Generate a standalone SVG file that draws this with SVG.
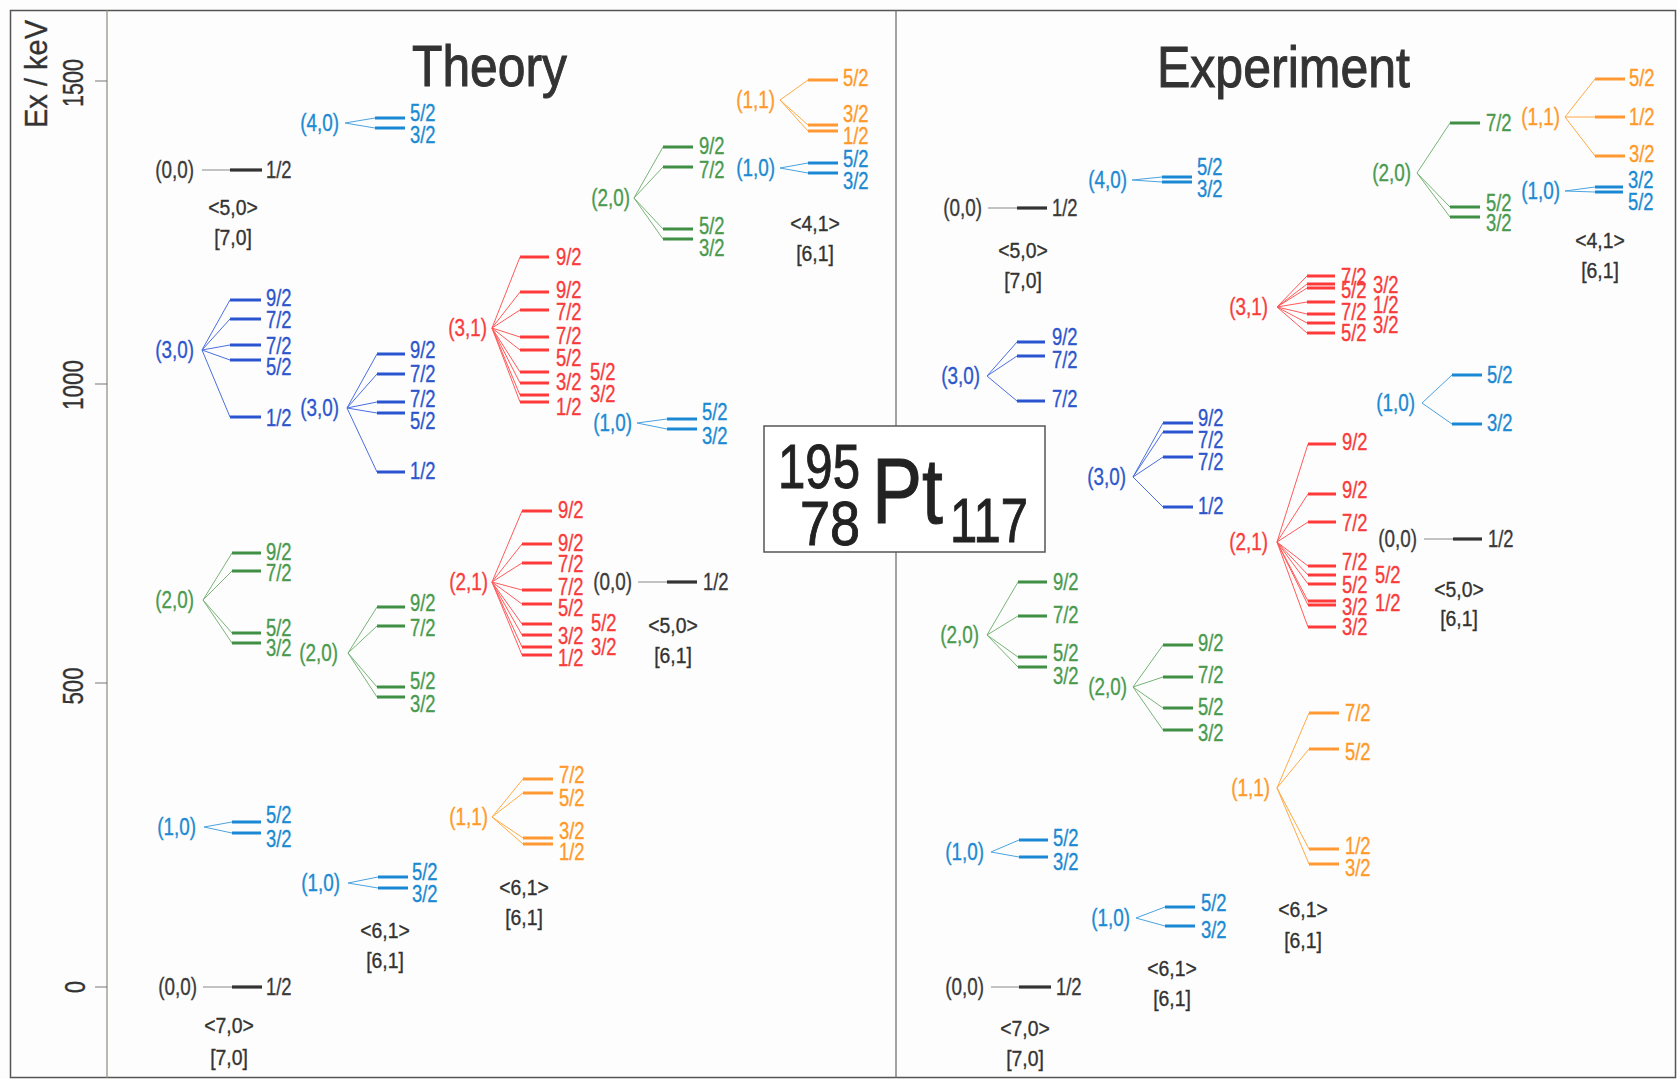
<svg xmlns="http://www.w3.org/2000/svg" width="1677" height="1079" viewBox="0 0 1677 1079">
<style>
text{font-family:"Liberation Sans",Arial,sans-serif;stroke-width:.35}
.sp{font-size:23px;transform-box:fill-box;transform-origin:0 50%;transform:scaleX(.8)}
.bl{font-size:23px;text-anchor:end;transform-box:fill-box;transform-origin:100% 50%;transform:scaleX(.82)}
.qn{font-size:22px;text-anchor:middle;fill:#333;stroke:#333;transform-box:fill-box;transform-origin:50% 50%;transform:scaleX(.88)}
.lv{fill:none;stroke-width:3.2}
.fn{fill:none;stroke-width:1}
.k{fill:#3a3a3a;stroke:#3a3a3a}.b3{fill:#2d56cc;stroke:#2d56cc}.b1{fill:#1c8ad2;stroke:#1c8ad2}.g{fill:#4a9a4e;stroke:#4a9a4e}.r{fill:#f83c3c;stroke:#f83c3c}.o{fill:#ff9a2a;stroke:#ff9a2a}
.sk{stroke:#333}.sb3{stroke:#2b55d0}.sb1{stroke:#1a88d4}.sg{stroke:#3f8f45}.sr{stroke:#ff3a3a}.so{stroke:#ff9933}
.fk{stroke:#888}.fb3{stroke:#4a6fe0}.fb1{stroke:#4aa3e0}.fg{stroke:#78b478}.fr{stroke:#ff5a5a}.fo{stroke:#ffaa44}
.ax{fill:#333;stroke:#333;text-anchor:middle}
.ti{fill:#333;stroke:#333;stroke-width:1}
.pt{fill:#222;stroke:#222;stroke-width:1}
</style>
<rect x="0" y="0" width="1677" height="1079" fill="#fdfdfd"/>
<g id="frame">
<rect x="10.5" y="10.5" width="1665" height="1067" fill="none" stroke="#555" stroke-width="1.5"/>
<line x1="107" y1="10" x2="107" y2="1078" stroke="#8a8a7a" stroke-width="1.2"/>
<line x1="896" y1="10" x2="896" y2="1078" stroke="#666" stroke-width="1.2"/>
<path d="M95 81H107M95 384H107M95 683H107M95 987H107" stroke="#777" stroke-width="1.2"/>
<text class="ax" transform="translate(47,74) rotate(-90)" font-size="32" textLength="108" lengthAdjust="spacingAndGlyphs">Ex / keV</text>
<text class="ax" transform="translate(83,83) rotate(-90)" font-size="30" textLength="48" lengthAdjust="spacingAndGlyphs">1500</text>
<text class="ax" transform="translate(83,385) rotate(-90)" font-size="30" textLength="50" lengthAdjust="spacingAndGlyphs">1000</text>
<text class="ax" transform="translate(83,686) rotate(-90)" font-size="30" textLength="37" lengthAdjust="spacingAndGlyphs">500</text>
<text class="ax" transform="translate(85,987) rotate(-90)" font-size="30" textLength="12" lengthAdjust="spacingAndGlyphs">0</text>
<text class="ti" x="412" y="86" font-size="58" textLength="155" lengthAdjust="spacingAndGlyphs">Theory</text>
<text class="ti" x="1157" y="87" font-size="57" textLength="253" lengthAdjust="spacingAndGlyphs">Experiment</text>
</g>
<g id="pt-box">
<rect x="764" y="426" width="281" height="126" fill="#fff" stroke="#555" stroke-width="1.5"/>
<text class="pt" x="778" y="488" font-size="63" textLength="82" lengthAdjust="spacingAndGlyphs">195</text>
<text class="pt" x="800" y="545" font-size="63" textLength="60" lengthAdjust="spacingAndGlyphs">78</text>
<text class="pt" x="872" y="523" font-size="92" textLength="71" lengthAdjust="spacingAndGlyphs">Pt</text>
<text class="pt" x="950" y="542" font-size="63" textLength="78" lengthAdjust="spacingAndGlyphs">117</text>
</g>
<g id="connectors">
<path class="fn fk" d="M202 170H230M203 987H232M638 582H667M988 208H1017M991 987H1019M1424 539H1453"/>
<path class="fn fb3" d="M202 350L230 300M202 350L230 319M202 350L230 345M202 350L230 360M202 350L230 417M347 408L377 354M347 408L377 374M347 408L377 402M347 408L377 413M347 408L377 472M987 376L1017 342M987 376L1017 356M987 376L1017 401M1133 477L1163 423M1133 477L1163 432M1133 477L1163 457M1133 477L1163 507"/>
<path class="fn fb1" d="M204 827L232 822M204 827L232 833M345 123L375 118M345 123L375 128M348 883L378 877M348 883L378 888M637 423L667 419M637 423L667 429M780 168L808 163M780 168L808 173M991 852L1019 840M991 852L1019 857M1132 180L1162 177M1132 180L1162 182M1136 918L1165 907M1136 918L1165 926M1422 403L1452 375M1422 403L1452 424M1565 191L1595 187M1565 191L1595 192"/>
<path class="fn fg" d="M203 600L232 553M203 600L232 571M203 600L232 633M203 600L232 643M348 653L377 607M348 653L377 626M348 653L377 687M348 653L377 697M634 198L663 147M634 198L663 167M634 198L663 229M634 198L663 239M987 635L1018 582M987 635L1018 616M987 635L1018 657M987 635L1018 667M1133 687L1163 645M1133 687L1163 677M1133 687L1163 708M1133 687L1163 730M1417 173L1450 123M1417 173L1450 207M1417 173L1450 217"/>
<path class="fn fr" d="M492 328L520 257M492 328L520 292M492 328L520 310M492 328L520 337M492 328L520 350M492 328L520 372M492 328L520 383M492 328L520 395M492 328L520 402M492 582L522 511M492 582L522 544M492 582L522 563M492 582L522 590M492 582L522 604M492 582L522 624M492 582L522 635M492 582L522 647M492 582L522 655M1277 307L1307 276M1277 307L1307 284M1277 307L1307 288M1277 307L1307 302M1277 307L1307 314M1277 307L1307 323M1277 307L1307 333M1277 542L1308 444M1277 542L1308 494M1277 542L1308 522M1277 542L1308 566M1277 542L1308 575M1277 542L1308 584M1277 542L1308 601M1277 542L1308 605M1277 542L1308 627"/>
<path class="fn fo" d="M492 817L523 779M492 817L523 793M492 817L523 838M492 817L523 844M780 100L808 80M780 100L808 125M780 100L808 131M1277 788L1309 713M1277 788L1309 749M1277 788L1309 849M1277 788L1309 864M1565 117L1595 79M1565 117L1595 117M1565 117L1595 156"/>
</g>
<g id="t-00-a">
<text class="bl k" x="194" y="178">(0,0)</text>
<path class="lv sk" d="M230 170H262"/>
<text class="sp k" x="266" y="178">1/2</text>
<text class="qn" x="233" y="215">&lt;5,0&gt;</text>
<text class="qn" x="233" y="245">[7,0]</text>
</g>
<g id="t-30-a">
<text class="bl b3" x="194" y="358">(3,0)</text>
<path class="lv sb3" d="M230 300H261M230 319H261M230 345H261M230 360H261M230 417H261"/>
<text class="sp b3" x="266" y="306">9/2</text>
<text class="sp b3" x="266" y="328">7/2</text>
<text class="sp b3" x="266" y="354">7/2</text>
<text class="sp b3" x="266" y="375">5/2</text>
<text class="sp b3" x="266" y="426">1/2</text>
</g>
<g id="t-20-a">
<text class="bl g" x="194" y="608">(2,0)</text>
<path class="lv sg" d="M232 553H261M232 571H261M232 633H261M232 643H261"/>
<text class="sp g" x="266" y="560">9/2</text>
<text class="sp g" x="266" y="581">7/2</text>
<text class="sp g" x="266" y="636">5/2</text>
<text class="sp g" x="266" y="656">3/2</text>
</g>
<g id="t-10-a">
<text class="bl b1" x="196" y="835">(1,0)</text>
<path class="lv sb1" d="M232 822H261M232 833H261"/>
<text class="sp b1" x="266" y="823">5/2</text>
<text class="sp b1" x="266" y="847">3/2</text>
</g>
<g id="t-00-b">
<text class="bl k" x="197" y="995">(0,0)</text>
<path class="lv sk" d="M232 987H262"/>
<text class="sp k" x="266" y="995">1/2</text>
<text class="qn" x="229" y="1033">&lt;7,0&gt;</text>
<text class="qn" x="229" y="1065">[7,0]</text>
</g>
<g id="t-40">
<text class="bl b1" x="339" y="131">(4,0)</text>
<path class="lv sb1" d="M375 118H405M375 128H405"/>
<text class="sp b1" x="410" y="121">5/2</text>
<text class="sp b1" x="410" y="143">3/2</text>
</g>
<g id="t-30-b">
<text class="bl b3" x="339" y="416">(3,0)</text>
<path class="lv sb3" d="M377 354H405M377 374H405M377 402H405M377 413H405M377 472H405"/>
<text class="sp b3" x="410" y="358">9/2</text>
<text class="sp b3" x="410" y="382">7/2</text>
<text class="sp b3" x="410" y="407">7/2</text>
<text class="sp b3" x="410" y="429">5/2</text>
<text class="sp b3" x="410" y="479">1/2</text>
</g>
<g id="t-20-b">
<text class="bl g" x="338" y="661">(2,0)</text>
<path class="lv sg" d="M377 607H405M377 626H405M377 687H405M377 697H405"/>
<text class="sp g" x="410" y="611">9/2</text>
<text class="sp g" x="410" y="636">7/2</text>
<text class="sp g" x="410" y="689">5/2</text>
<text class="sp g" x="410" y="712">3/2</text>
</g>
<g id="t-10-b">
<text class="bl b1" x="340" y="891">(1,0)</text>
<path class="lv sb1" d="M378 877H408M378 888H408"/>
<text class="sp b1" x="412" y="880">5/2</text>
<text class="sp b1" x="412" y="902">3/2</text>
<text class="qn" x="385" y="938">&lt;6,1&gt;</text>
<text class="qn" x="385" y="968">[6,1]</text>
</g>
<g id="t-31">
<text class="bl r" x="487" y="336">(3,1)</text>
<path class="lv sr" d="M520 257H549M520 292H549M520 310H549M520 337H549M520 350H549M520 372H549M520 383H549M520 395H549M520 402H549"/>
<text class="sp r" x="556" y="265">9/2</text>
<text class="sp r" x="556" y="298">9/2</text>
<text class="sp r" x="556" y="320">7/2</text>
<text class="sp r" x="556" y="344">7/2</text>
<text class="sp r" x="556" y="366">5/2</text>
<text class="sp r" x="556" y="390">3/2</text>
<text class="sp r" x="556" y="415">1/2</text>
<text class="sp r" x="590" y="380">5/2</text>
<text class="sp r" x="590" y="402">3/2</text>
</g>
<g id="t-21">
<text class="bl r" x="488" y="590">(2,1)</text>
<path class="lv sr" d="M522 511H552M522 544H552M522 563H552M522 590H552M522 604H552M522 624H552M522 635H552M522 647H552M522 655H552"/>
<text class="sp r" x="558" y="518">9/2</text>
<text class="sp r" x="558" y="551">9/2</text>
<text class="sp r" x="558" y="572">7/2</text>
<text class="sp r" x="558" y="595">7/2</text>
<text class="sp r" x="558" y="616">5/2</text>
<text class="sp r" x="558" y="644">3/2</text>
<text class="sp r" x="558" y="666">1/2</text>
<text class="sp r" x="591" y="631">5/2</text>
<text class="sp r" x="591" y="655">3/2</text>
</g>
<g id="t-11-a">
<text class="bl o" x="488" y="825">(1,1)</text>
<path class="lv so" d="M523 779H553M523 793H553M523 838H553M523 844H553"/>
<text class="sp o" x="559" y="783">7/2</text>
<text class="sp o" x="559" y="806">5/2</text>
<text class="sp o" x="559" y="839">3/2</text>
<text class="sp o" x="559" y="860">1/2</text>
<text class="qn" x="524" y="895">&lt;6,1&gt;</text>
<text class="qn" x="524" y="925">[6,1]</text>
</g>
<g id="t-20-c">
<text class="bl g" x="630" y="206">(2,0)</text>
<path class="lv sg" d="M663 147H693M663 167H693M663 229H693M663 239H693"/>
<text class="sp g" x="699" y="154">9/2</text>
<text class="sp g" x="699" y="178">7/2</text>
<text class="sp g" x="699" y="234">5/2</text>
<text class="sp g" x="699" y="256">3/2</text>
</g>
<g id="t-10-c">
<text class="bl b1" x="632" y="431">(1,0)</text>
<path class="lv sb1" d="M667 419H697M667 429H697"/>
<text class="sp b1" x="702" y="420">5/2</text>
<text class="sp b1" x="702" y="444">3/2</text>
</g>
<g id="t-00-c">
<text class="bl k" x="632" y="590">(0,0)</text>
<path class="lv sk" d="M667 582H697"/>
<text class="sp k" x="703" y="590">1/2</text>
<text class="qn" x="673" y="633">&lt;5,0&gt;</text>
<text class="qn" x="673" y="663">[6,1]</text>
</g>
<g id="t-11-b">
<text class="bl o" x="775" y="108">(1,1)</text>
<path class="lv so" d="M808 80H838M808 125H838M808 131H838"/>
<text class="sp o" x="843" y="86">5/2</text>
<text class="sp o" x="843" y="122">3/2</text>
<text class="sp o" x="843" y="144">1/2</text>
</g>
<g id="t-10-d">
<text class="bl b1" x="775" y="176">(1,0)</text>
<path class="lv sb1" d="M808 163H838M808 173H838"/>
<text class="sp b1" x="843" y="167">5/2</text>
<text class="sp b1" x="843" y="189">3/2</text>
<text class="qn" x="815" y="231">&lt;4,1&gt;</text>
<text class="qn" x="815" y="261">[6,1]</text>
</g>
<g id="e-00-a">
<text class="bl k" x="982" y="216">(0,0)</text>
<path class="lv sk" d="M1017 208H1047"/>
<text class="sp k" x="1052" y="216">1/2</text>
<text class="qn" x="1023" y="258">&lt;5,0&gt;</text>
<text class="qn" x="1023" y="288">[7,0]</text>
</g>
<g id="e-30-a">
<text class="bl b3" x="980" y="384">(3,0)</text>
<path class="lv sb3" d="M1017 342H1045M1017 356H1045M1017 401H1045"/>
<text class="sp b3" x="1052" y="345">9/2</text>
<text class="sp b3" x="1052" y="368">7/2</text>
<text class="sp b3" x="1052" y="407">7/2</text>
</g>
<g id="e-20-a">
<text class="bl g" x="979" y="643">(2,0)</text>
<path class="lv sg" d="M1018 582H1047M1018 616H1047M1018 657H1047M1018 667H1047"/>
<text class="sp g" x="1053" y="590">9/2</text>
<text class="sp g" x="1053" y="623">7/2</text>
<text class="sp g" x="1053" y="661">5/2</text>
<text class="sp g" x="1053" y="684">3/2</text>
</g>
<g id="e-10-a">
<text class="bl b1" x="984" y="860">(1,0)</text>
<path class="lv sb1" d="M1019 840H1048M1019 857H1048"/>
<text class="sp b1" x="1053" y="846">5/2</text>
<text class="sp b1" x="1053" y="870">3/2</text>
</g>
<g id="e-00-b">
<text class="bl k" x="984" y="995">(0,0)</text>
<path class="lv sk" d="M1019 987H1051"/>
<text class="sp k" x="1056" y="995">1/2</text>
<text class="qn" x="1025" y="1036">&lt;7,0&gt;</text>
<text class="qn" x="1025" y="1066">[7,0]</text>
</g>
<g id="e-40">
<text class="bl b1" x="1127" y="188">(4,0)</text>
<path class="lv sb1" d="M1162 177H1192M1162 182H1192"/>
<text class="sp b1" x="1197" y="175">5/2</text>
<text class="sp b1" x="1197" y="197">3/2</text>
</g>
<g id="e-30-b">
<text class="bl b3" x="1126" y="485">(3,0)</text>
<path class="lv sb3" d="M1163 423H1193M1163 432H1193M1163 457H1193M1163 507H1193"/>
<text class="sp b3" x="1198" y="426">9/2</text>
<text class="sp b3" x="1198" y="448">7/2</text>
<text class="sp b3" x="1198" y="470">7/2</text>
<text class="sp b3" x="1198" y="514">1/2</text>
</g>
<g id="e-20-b">
<text class="bl g" x="1127" y="695">(2,0)</text>
<path class="lv sg" d="M1163 645H1193M1163 677H1193M1163 708H1193M1163 730H1193"/>
<text class="sp g" x="1198" y="651">9/2</text>
<text class="sp g" x="1198" y="683">7/2</text>
<text class="sp g" x="1198" y="715">5/2</text>
<text class="sp g" x="1198" y="741">3/2</text>
</g>
<g id="e-10-b">
<text class="bl b1" x="1130" y="926">(1,0)</text>
<path class="lv sb1" d="M1165 907H1195M1165 926H1195"/>
<text class="sp b1" x="1201" y="911">5/2</text>
<text class="sp b1" x="1201" y="938">3/2</text>
<text class="qn" x="1172" y="976">&lt;6,1&gt;</text>
<text class="qn" x="1172" y="1006">[6,1]</text>
</g>
<g id="e-31">
<text class="bl r" x="1268" y="315">(3,1)</text>
<path class="lv sr" d="M1307 276H1335M1307 284H1335M1307 288H1335M1307 302H1335M1307 314H1335M1307 323H1335M1307 333H1335"/>
<text class="sp r" x="1341" y="285">7/2</text>
<text class="sp r" x="1341" y="298">5/2</text>
<text class="sp r" x="1341" y="320">7/2</text>
<text class="sp r" x="1341" y="341">5/2</text>
<text class="sp r" x="1373" y="293">3/2</text>
<text class="sp r" x="1373" y="313">1/2</text>
<text class="sp r" x="1373" y="333">3/2</text>
</g>
<g id="e-21">
<text class="bl r" x="1268" y="550">(2,1)</text>
<path class="lv sr" d="M1308 444H1336M1308 494H1336M1308 522H1336M1308 566H1336M1308 575H1336M1308 584H1336M1308 601H1336M1308 605H1336M1308 627H1336"/>
<text class="sp r" x="1342" y="450">9/2</text>
<text class="sp r" x="1342" y="498">9/2</text>
<text class="sp r" x="1342" y="531">7/2</text>
<text class="sp r" x="1342" y="570">7/2</text>
<text class="sp r" x="1342" y="593">5/2</text>
<text class="sp r" x="1342" y="615">3/2</text>
<text class="sp r" x="1342" y="635">3/2</text>
<text class="sp r" x="1375" y="583">5/2</text>
<text class="sp r" x="1375" y="611">1/2</text>
</g>
<g id="e-11-a">
<text class="bl o" x="1270" y="796">(1,1)</text>
<path class="lv so" d="M1309 713H1339M1309 749H1339M1309 849H1339M1309 864H1339"/>
<text class="sp o" x="1345" y="721">7/2</text>
<text class="sp o" x="1345" y="760">5/2</text>
<text class="sp o" x="1345" y="854">1/2</text>
<text class="sp o" x="1345" y="876">3/2</text>
<text class="qn" x="1303" y="917">&lt;6,1&gt;</text>
<text class="qn" x="1303" y="948">[6,1]</text>
</g>
<g id="e-20-c">
<text class="bl g" x="1411" y="181">(2,0)</text>
<path class="lv sg" d="M1450 123H1480M1450 207H1480M1450 217H1480"/>
<text class="sp g" x="1486" y="131">7/2</text>
<text class="sp g" x="1486" y="211">5/2</text>
<text class="sp g" x="1486" y="231">3/2</text>
</g>
<g id="e-10-c">
<text class="bl b1" x="1415" y="411">(1,0)</text>
<path class="lv sb1" d="M1452 375H1482M1452 424H1482"/>
<text class="sp b1" x="1487" y="383">5/2</text>
<text class="sp b1" x="1487" y="431">3/2</text>
</g>
<g id="e-00-c">
<text class="bl k" x="1417" y="547">(0,0)</text>
<path class="lv sk" d="M1453 539H1482"/>
<text class="sp k" x="1488" y="547">1/2</text>
<text class="qn" x="1459" y="597">&lt;5,0&gt;</text>
<text class="qn" x="1459" y="626">[6,1]</text>
</g>
<g id="e-11-b">
<text class="bl o" x="1560" y="125">(1,1)</text>
<path class="lv so" d="M1595 79H1625M1595 117H1625M1595 156H1625"/>
<text class="sp o" x="1629" y="86">5/2</text>
<text class="sp o" x="1629" y="125">1/2</text>
<text class="sp o" x="1629" y="162">3/2</text>
</g>
<g id="e-10-d">
<text class="bl b1" x="1560" y="199">(1,0)</text>
<path class="lv sb1" d="M1595 187H1623M1595 192H1623"/>
<text class="sp b1" x="1628" y="188">3/2</text>
<text class="sp b1" x="1628" y="210">5/2</text>
<text class="qn" x="1600" y="248">&lt;4,1&gt;</text>
<text class="qn" x="1600" y="278">[6,1]</text>
</g>
</svg>
